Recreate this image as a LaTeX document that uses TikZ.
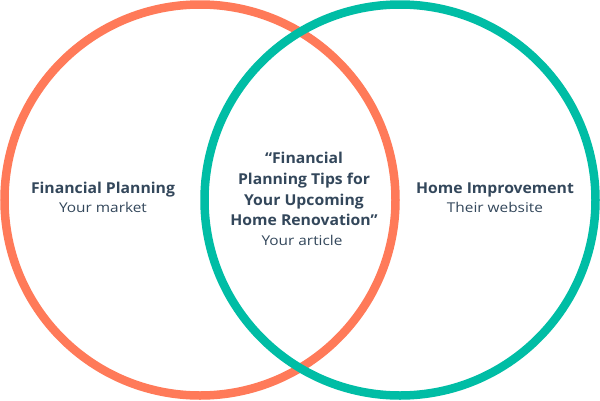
\documentclass[tikz,border=0pt]{standalone}
\usepackage{fontspec}
\setmainfont{Open Sans}
\newfontfamily\titlefont[FakeStretch=1.05]{Open Sans}
\newfontfamily\subfont[FakeStretch=1.14]{Open Sans}
\definecolor{orng}{HTML}{FF7A59}
\definecolor{teal2}{HTML}{00BDA5}
\definecolor{slate}{HTML}{33475B}
\begin{document}
\begin{tikzpicture}[x=1pt,y=-1pt,
  ring/.style={line width=8.5pt},
  title/.style={text=slate,font=\titlefont\fontsize{15}{20.7}\selectfont\bfseries,align=center,inner sep=0pt},
  sub/.style={text=slate,font=\subfont\fontsize{13.5}{16}\selectfont,align=center,inner sep=0pt}]
\useasboundingbox (0,0) rectangle (600,400);
\fill[white] (0,0) rectangle (600,400);
\coordinate (cl) at (200,200);
\coordinate (cr) at (400,200);
\draw[ring,orng] (cl) circle[radius=195.5];
\draw[ring,teal2] (cr) circle[radius=195.5];
\node[title,anchor=base] (lt) at (103,193) {Financial Planning};
\node[sub,anchor=base] (ls) at (103,212.5) {Your market};
\node[title,anchor=base] (rt) at (495,193) {Home Improvement};
\node[sub,anchor=base] (rs) at (495,212.5) {Their website};
\node[title,anchor=base] (ct) at (304,225.7) {“Financial\\Planning Tips for\\Your Upcoming\\Home Renovation”};
\node[sub,anchor=base] (cs) at (302,245) {Your article};
\end{tikzpicture}
\end{document}
